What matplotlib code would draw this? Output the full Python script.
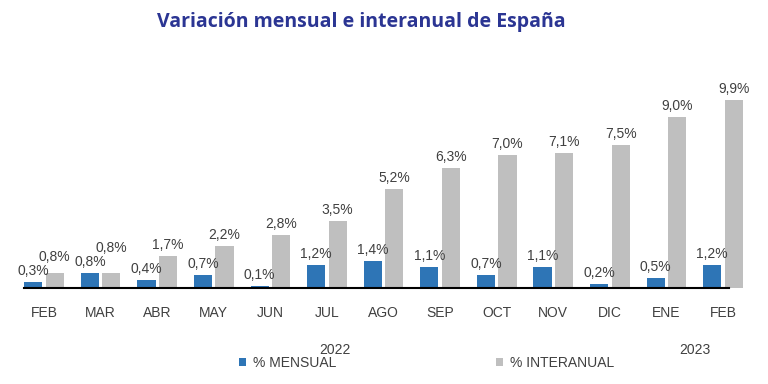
import matplotlib.pyplot as plt
import numpy as np

months = ['FEB', 'MAR', 'ABR', 'MAY', 'JUN', 'JUL', 'AGO', 'SEP', 'OCT',
          'NOV', 'DIC', 'ENE', 'FEB']
mensual = [0.3, 0.8, 0.4, 0.7, 0.1, 1.2, 1.4, 1.1, 0.7, 1.1, 0.2, 0.5, 1.2]
interanual = [0.8, 0.8, 1.7, 2.2, 2.8, 3.5, 5.2, 6.3, 7.0, 7.1, 7.5, 9.0, 9.9]
years = ['2022', '2023']

blue = '#2e75b6'
gray = '#bfbfbf'
txt = '#404040'

plt.rcParams['font.family'] = ['Liberation Sans', 'DejaVu Sans']

fig = plt.figure(figsize=(7.68, 3.84), dpi=100)
ax = fig.add_axes([0.0205, 0.25, 0.9578, 0.52])

x = np.arange(len(months))
w = 0.32
off = 0.19
b1 = ax.bar(x - off, mensual, w, color=blue, label='% MENSUAL')
b2 = ax.bar(x + off, interanual, w, color=gray, label='% INTERANUAL')

ax.set_xlim(-0.5, len(months) - 0.5)
ax.set_ylim(0, 10.5)

# points per data unit, used to keep the grey label clear of the blue one
pt_per_unit = ax.get_position().height * fig.get_figheight() * 72 / 10.5


def fmt(v):
    return f'{v:.1f}%'.replace('.', ',')


for r, v in zip(b1, mensual):
    ax.annotate(fmt(v), (r.get_x() + r.get_width() / 2, v),
                xytext=(0, 3), textcoords='offset points',
                ha='center', va='bottom', fontsize=10, color=txt)

for r, v, m in zip(b2, interanual, mensual):
    gap = (v - m) * pt_per_unit
    lift = max(3, 13 - gap)
    ax.annotate(fmt(v), (r.get_x() + r.get_width() / 2, v),
                xytext=(0, lift), textcoords='offset points',
                ha='center', va='bottom', fontsize=10, color=txt)

ax.set_yticks([])
ax.set_xticks(x, months, fontsize=10, color=txt)
ax.tick_params(axis='x', length=0, pad=13)
for s in ('top', 'right', 'left'):
    ax.spines[s].set_visible(False)
ax.spines['bottom'].set_linewidth(1.5)
ax.spines['bottom'].set_color('black')
ax.spines['bottom'].set_bounds(-0.35, 12.1)

fig.text(0.47, 0.942, 'Variación mensual e interanual de España',
         ha='center', va='center', fontsize=14, fontweight='bold',
         color='#2b3593', family=['Open Sans', 'DejaVu Sans'])

fig.text(0.436, 0.088, years[0], ha='center', va='center', fontsize=10, color=txt)
fig.text(0.905, 0.088, years[1], ha='center', va='center', fontsize=10, color=txt)

fig.legend(loc='center', bbox_to_anchor=(0.555, 0.055), ncol=2, frameon=False,
           fontsize=10, handlelength=0.5, handleheight=0.5, handletextpad=0.5,
           columnspacing=11.5, labelcolor=txt)

fig.savefig('out.png', dpi=100)
